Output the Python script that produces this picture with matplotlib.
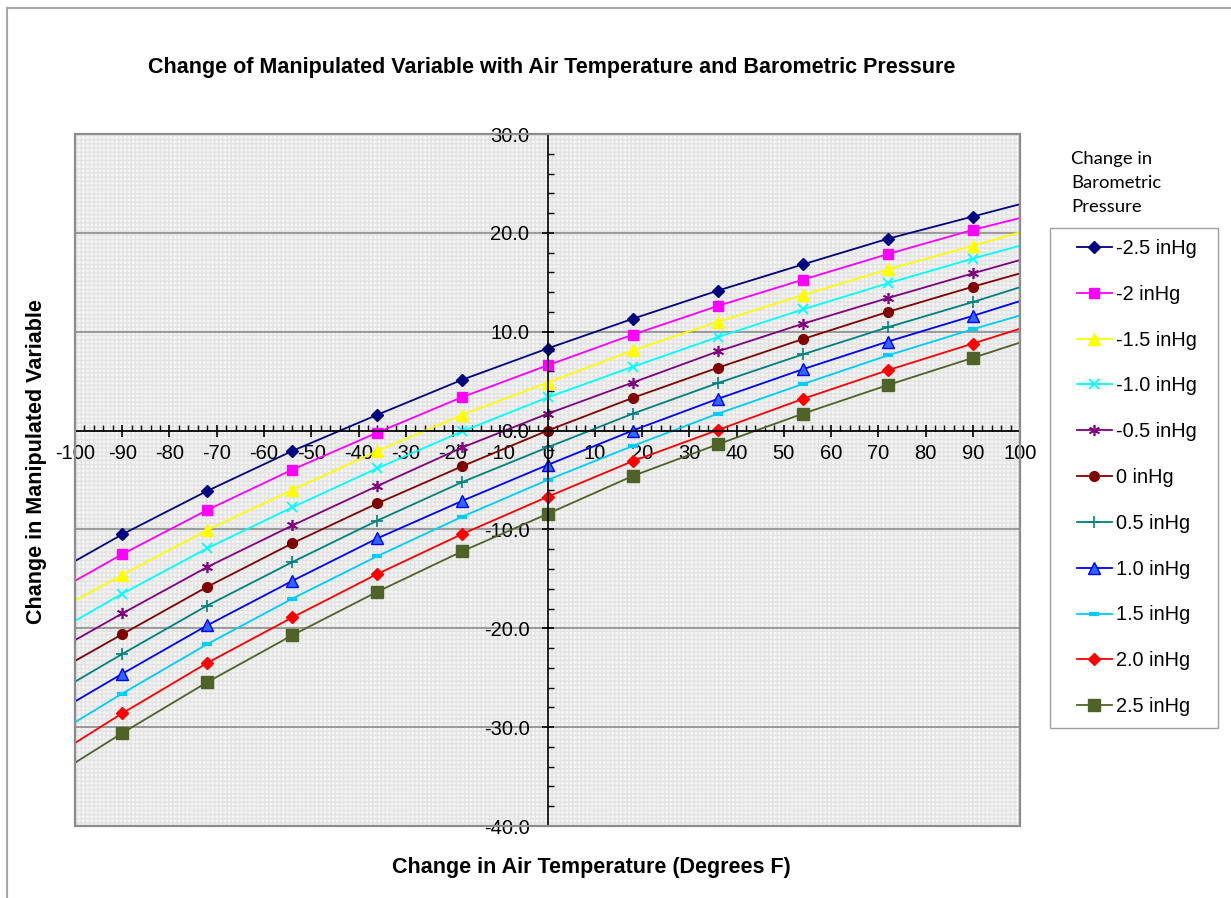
import matplotlib
matplotlib.use("Agg")
import matplotlib.pyplot as plt
from matplotlib.patches import Rectangle
from matplotlib.lines import Line2D
import numpy as np

plt.rcParams['font.family'] = ['Liberation Sans', 'DejaVu Sans']

# ---- data ----
temp_change = [-100, -90, -72, -54, -36, -18, 0, 18, 36, 54, 72, 90, 100]
series_labels = ['-2.5 inHg', '-2 inHg', '-1.5 inHg', '-1.0 inHg', '-0.5 inHg', '0 inHg',
                 '0.5 inHg', '1.0 inHg', '1.5 inHg', '2.0 inHg', '2.5 inHg']
p_m25 = [-13.2, -10.5, -6.1, -2.06, 1.6, 5.15, 8.3, 11.3, 14.15, 16.8, 19.4, 21.65, 22.9]
p_m20 = [-15.2, -12.5, -8.03, -3.95, -0.2, 3.4, 6.6, 9.7, 12.6, 15.26, 17.85, 20.3, 21.5]
p_m15 = [-17.2, -14.6, -10.05, -6.0, -2.07, 1.6, 4.85, 8.1, 11.0, 13.7, 16.3, 18.7, 20.05]
p_m10 = [-19.25, -16.5, -11.9, -7.76, -3.8, -0.07, 3.35, 6.45, 9.45, 12.25, 14.9, 17.4, 18.7]
p_m05 = [-21.2, -18.5, -13.8, -9.6, -5.6, -1.7, 1.7, 4.85, 8.0, 10.8, 13.4, 15.9, 17.25]
p_00 = [-23.3, -20.6, -15.8, -11.4, -7.36, -3.6, 0.0, 3.3, 6.35, 9.25, 12.0, 14.55, 15.9]
p_05 = [-25.4, -22.6, -17.7, -13.3, -9.1, -5.2, -1.7, 1.7, 4.8, 7.7, 10.45, 13.0, 14.5]
p_10 = [-27.4, -24.6, -19.7, -15.2, -10.9, -7.1, -3.48, 0.0, 3.2, 6.2, 9.0, 11.6, 13.1]
p_15 = [-29.5, -26.6, -21.6, -17.0, -12.7, -8.7, -5.0, -1.56, 1.7, 4.7, 7.6, 10.25, 11.65]
p_20 = [-31.6, -28.6, -23.5, -18.9, -14.5, -10.45, -6.7, -3.1, 0.05, 3.2, 6.1, 8.8, 10.3]
p_25 = [-33.6, -30.6, -25.45, -20.7, -16.3, -12.2, -8.43, -4.6, -1.4, 1.7, 4.6, 7.35, 8.9]
series_values = [p_m25, p_m20, p_m15, p_m10, p_m05, p_00, p_05, p_10, p_15, p_20, p_25]

x_ticks = list(range(-100, 101, 10))
y_ticks = list(range(-40, 31, 10))

# ---- styles ----
styles = [
    dict(color='#000080', marker='D', ms=6, mfc='#000080', mec='#000080'),
    dict(color='#ff00ff', marker='s', ms=7, mfc='#ff00ff', mec='#ff00ff'),
    dict(color='#ffff00', marker='^', ms=8, mfc='#ffff00', mec='#ffff00'),
    dict(color='#00ffff', marker='x', ms=7, mfc='none', mec='#00ffff', mew=1.3),
    dict(color='#800080', marker=(6, 2, 0), ms=8, mfc='none', mec='#800080', mew=1.2),
    dict(color='#800000', marker='o', ms=7, mfc='#800000', mec='#800000'),
    dict(color='#008080', marker='+', ms=8, mfc='none', mec='#008080', mew=1.2),
    dict(color='#0000ff', marker='^', ms=8, mfc='#3366ff', mec='#0000ff'),
    dict(color='#00ccff', marker='_', ms=7, mfc='#00ccff', mec='#00ccff', mew=3),
    dict(color='#ff0000', marker='D', ms=6, mfc='#ff0000', mec='#ff0000'),
    dict(color='#4f6228', marker='s', ms=8, mfc='#4f6228', mec='#4f6228'),
]

fig = plt.figure(figsize=(12.31, 8.98), dpi=100)
W, H = 1231, 898
ax = fig.add_axes([75 / W, 1 - 826 / H, (1020 - 75) / W, (826 - 134) / H])

# background pattern
ax.patch.set_facecolor('#f5f5f5')
bg = Rectangle((0, 0), 1, 1, transform=ax.transAxes, facecolor='#f5f5f5',
               edgecolor='#e3e3e3', hatch='++++', linewidth=0, zorder=0)
ax.add_patch(bg)
frame = Rectangle((0, 0), 1, 1, transform=ax.transAxes, facecolor='none',
                  edgecolor='#8c8c8c', linewidth=1.6, zorder=5, clip_on=False)
ax.add_patch(frame)

ax.set_xlim(-100, 100)
ax.set_ylim(-40, 30)

for yv in y_ticks[1:-1]:
    ax.axhline(yv, color='#8c8c8c', linewidth=1.2, zorder=1)

for vals, lab, st in zip(series_values, series_labels, styles):
    ax.plot(temp_change, vals, color=st['color'], linewidth=1.3, marker=st['marker'],
            markersize=st['ms'], markerfacecolor=st['mfc'], markeredgecolor=st['mec'],
            markeredgewidth=st.get('mew', 1.0), markevery=slice(1, -1), label=lab, zorder=3)

# axes through zero
for s in ['top', 'right']:
    ax.spines[s].set_visible(False)
ax.spines['left'].set_position(('data', 0))
ax.spines['bottom'].set_position(('data', 0))
for s in ['left', 'bottom']:
    ax.spines[s].set_color('black')
    ax.spines[s].set_linewidth(1.2)
    ax.spines[s].set_zorder(4)

ax.set_xticks(x_ticks)
ax.set_yticks(y_ticks)
ax.set_xticklabels([str(v) for v in x_ticks])
ax.set_yticklabels([f'{v:.1f}' for v in y_ticks])
ax.set_xticks(np.arange(-100, 101, 2), minor=True)
ax.set_yticks(np.arange(-40, 31, 2), minor=True)
ax.tick_params(axis='both', which='major', direction='inout', length=8, width=1.2,
               labelsize=14.5, colors='black')
ax.tick_params(axis='x', which='major', pad=6)
ax.tick_params(axis='y', which='major', pad=9)
ax.tick_params(axis='both', which='minor', direction='in', length=4, width=1.0)

fig.text(551.5 / W, 1 - 68 / H, 'Change of Manipulated Variable with Air Temperature and Barometric Pressure',
         ha='center', va='center', fontsize=15.5, fontweight='bold')
fig.text(37 / W, 1 - 462 / H, 'Change in Manipulated Variable', rotation=90,
         ha='center', va='center', fontsize=15.5, fontweight='bold')
fig.text(591 / W, 1 - 868 / H, 'Change in Air Temperature (Degrees F)',
         ha='center', va='center', fontsize=15.5, fontweight='bold')

fig.text(1071 / W, 1 - 151 / H, 'Change in\nBarometric\nPressure', ha='left', va='top',
         fontsize=13.3, family=['Lato', 'DejaVu Sans'], linespacing=1.62)

# legend frame drawn separately (behind the axes-level legend)
fig.add_artist(Rectangle((1050 / W, 1 - 728 / H), (1218 - 1050) / W, (728 - 228) / H,
                         transform=fig.transFigure, facecolor='white',
                         edgecolor='#a0a0a0', linewidth=1.0, zorder=-1))
leg = ax.legend(loc='upper left', bbox_to_anchor=(1077 / W, 1 - 239 / H),
                bbox_transform=fig.transFigure, fontsize=14.3, frameon=False,
                handlelength=1.76, handletextpad=0.2, labelspacing=1.35,
                borderpad=0, borderaxespad=0)

# figure border (top & left)
fig.add_artist(Line2D([7 / W, 1], [1 - 8 / H, 1 - 8 / H], transform=fig.transFigure,
                      color='#a8a8a8', linewidth=1.5))
fig.add_artist(Line2D([7 / W, 7 / W], [0, 1 - 8 / H], transform=fig.transFigure,
                      color='#a8a8a8', linewidth=1.5))

fig.savefig('out.png', dpi=100)
